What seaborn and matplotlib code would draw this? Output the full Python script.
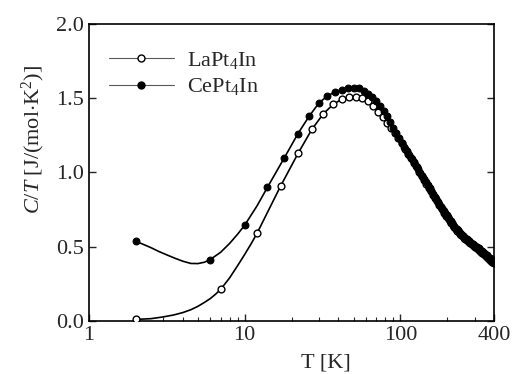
import numpy as np
import pandas as pd
import matplotlib
matplotlib.use("Agg")
import matplotlib.pyplot as plt
from matplotlib.lines import Line2D
from matplotlib.ticker import FixedLocator, FixedFormatter, NullFormatter
import seaborn as sns

# ---------------- data ----------------
ce_T = [2, 6, 10, 14, 18, 22, 26, 30, 34, 38, 42, 46, 50, 54, 58, 62, 66, 70, 74, 78,
        82, 86, 90, 94, 98, 102, 106, 110, 114, 118, 122, 126, 130, 134, 138, 142, 146,
        150, 154, 158, 162, 166, 170, 174, 178, 182, 186, 190, 194, 198, 202, 206, 210,
        214, 218, 222, 226, 230, 234, 238, 242, 246, 250, 254, 258, 262, 266, 270, 274,
        278, 282, 286, 290, 294, 298, 302, 306, 310, 314, 318, 322, 326, 330, 334, 338,
        342, 346, 350, 354, 358, 362, 366, 370, 374, 378, 382, 386, 390, 394, 398]
ce_CT = [0.535, 0.413, 0.645, 0.900, 1.100, 1.262, 1.380, 1.468, 1.515, 1.542, 1.558,
         1.567, 1.569, 1.566, 1.551, 1.530, 1.505, 1.478, 1.448, 1.416, 1.378, 1.338,
         1.302, 1.268, 1.232, 1.200, 1.172, 1.145, 1.118, 1.093, 1.068, 1.044, 1.021,
         0.999, 0.977, 0.956, 0.934, 0.913, 0.892, 0.872, 0.854, 0.836, 0.818, 0.801,
         0.784, 0.769, 0.754, 0.739, 0.725, 0.710, 0.697, 0.684, 0.672, 0.659, 0.647,
         0.635, 0.625, 0.617, 0.609, 0.601, 0.593, 0.585, 0.577, 0.571, 0.565, 0.559,
         0.553, 0.547, 0.541, 0.535, 0.530, 0.525, 0.520, 0.515, 0.511, 0.506, 0.501,
         0.497, 0.492, 0.488, 0.483, 0.478, 0.473, 0.469, 0.464, 0.459, 0.455, 0.450,
         0.446, 0.441, 0.436, 0.431, 0.426, 0.421, 0.416, 0.411, 0.407, 0.402, 0.397,
         0.393]

la_T = [2, 7, 12, 17, 22, 27, 32, 37, 42, 47, 52, 57, 62, 67, 72, 77, 82, 87, 92, 97,
        102, 107, 112, 117, 122, 127, 132, 137, 142, 147, 152, 157, 162, 167, 172, 177,
        182, 187, 192, 197, 202, 207, 212, 217, 222, 227, 232, 237, 242, 247, 252, 257,
        262, 267, 272, 277, 282, 287, 292, 297, 302, 307, 312, 317, 322, 327, 332, 337,
        342, 347, 352, 357, 362, 367, 372, 377, 382, 387, 392, 397]
la_CT = [0.010, 0.212, 0.590, 0.908, 1.128, 1.290, 1.395, 1.458, 1.493, 1.508, 1.510,
         1.498, 1.478, 1.445, 1.410, 1.372, 1.333, 1.298, 1.265, 1.232, 1.195, 1.160,
         1.126, 1.094, 1.063, 1.034, 1.005, 0.978, 0.951, 0.924, 0.898, 0.872, 0.849,
         0.826, 0.805, 0.783, 0.764, 0.745, 0.727, 0.709, 0.692, 0.676, 0.661, 0.645,
         0.630, 0.618, 0.608, 0.598, 0.588, 0.578, 0.569, 0.561, 0.554, 0.546, 0.539,
         0.532, 0.525, 0.519, 0.513, 0.507, 0.501, 0.495, 0.490, 0.484, 0.478, 0.472,
         0.466, 0.460, 0.454, 0.449, 0.443, 0.437, 0.431, 0.424, 0.418, 0.412, 0.406,
         0.400, 0.394, 0.388]

# extra points of the drawn guide curves at low T
ce_line_T = [2.2, 2.5, 2.8, 3.2, 3.6, 4.0, 4.5, 5.0, 5.5, 7.0, 8.0, 9.0, 12.0]
ce_line_CT = [0.518, 0.493, 0.468, 0.442, 0.420, 0.402, 0.387, 0.386, 0.395, 0.462,
              0.522, 0.584, 0.775]
la_line_T = [2.5, 3.0, 3.5, 4.0, 4.5, 5.0, 5.5, 6.0, 6.5, 8.0, 9.0, 10.0, 11.0, 14.0]
la_line_CT = [0.015, 0.027, 0.040, 0.056, 0.075, 0.098, 0.124, 0.150, 0.180, 0.290,
              0.372, 0.448, 0.520, 0.731]

labels = ["LaPt$_4$In", "CePt$_4$In"]
x_ticks = [1, 10, 100, 400]
x_minor = [2, 3, 4, 5, 6, 7, 8, 9, 20, 30, 40, 50, 60, 70, 80, 90, 200, 300]
y_ticks = [0.0, 0.5, 1.0, 1.5, 2.0]

# ---------------- style ----------------
sns.set_style("ticks")
plt.rcParams['font.family'] = ['Liberation Serif', 'DejaVu Serif']
plt.rcParams['mathtext.fontset'] = 'custom'
plt.rcParams['mathtext.rm'] = 'Liberation Serif'
plt.rcParams['mathtext.it'] = 'Liberation Serif:italic'
plt.rcParams['mathtext.bf'] = 'Liberation Serif:bold'

FS = 16

fig = plt.figure(figsize=(5.12, 3.74), dpi=100)
ax = fig.add_axes([0.174, 0.142, 0.791, 0.794])

ce_line = pd.DataFrame({"T": ce_T + ce_line_T, "CT": ce_CT + ce_line_CT}).sort_values("T")
la_line = pd.DataFrame({"T": la_T + la_line_T, "CT": la_CT + la_line_CT}).sort_values("T")

sns.lineplot(data=la_line, x="T", y="CT", sort=True, estimator=None, color="black",
             lw=1.2, ax=ax)
sns.lineplot(data=ce_line, x="T", y="CT", sort=True, estimator=None, color="black",
             lw=1.2, ax=ax)
sns.scatterplot(x=la_T, y=la_CT, marker="o", s=24, color="white", edgecolor="black",
                linewidth=1.0, ax=ax, zorder=3)
sns.scatterplot(x=ce_T, y=ce_CT, marker="o", s=24, color="black", edgecolor="black",
                linewidth=0.8, ax=ax, zorder=4)

ax.set_xscale("log")
ax.set_xlim(1, 400)
ax.set_ylim(0, 2.0)
ax.xaxis.set_major_locator(FixedLocator(x_ticks))
ax.xaxis.set_major_formatter(FixedFormatter([str(t) for t in x_ticks]))
ax.xaxis.set_minor_locator(FixedLocator(x_minor))
ax.xaxis.set_minor_formatter(NullFormatter())
ax.set_yticks(y_ticks)
ax.set_yticklabels([f"{v:.1f}" for v in y_ticks])

ax.tick_params(axis="both", which="major", direction="in", length=5, width=1.0,
               labelsize=FS, pad=4)
ax.tick_params(axis="x", which="minor", direction="in", length=3, width=0.8)
ax.tick_params(axis="y", which="both", right=True)
ax.tick_params(axis="x", which="both", top=False)
for sp in ax.spines.values():
    sp.set_visible(True)
    sp.set_linewidth(1.2)
    sp.set_color("black")

ax.set_xlabel("T [K]", fontsize=FS)
ax.set_ylabel("$C/T$ [J/(mol$\\cdot$K$^2$)]", fontsize=FS)
ax.xaxis.set_label_coords(0.585, -0.11)
ax.yaxis.set_label_coords(-0.105, 0.61)

handles = [
    Line2D([], [], color="0.35", lw=0.8, marker="o", markersize=5,
           markerfacecolor="white", markeredgecolor="black", markeredgewidth=1.0),
    Line2D([], [], color="0.35", lw=0.8, marker="o", markersize=5,
           markerfacecolor="black", markeredgecolor="black"),
]
ax.legend(handles, labels, loc="upper left", bbox_to_anchor=(0.0, 0.98), frameon=False,
          fontsize=FS, handlelength=2.9, handletextpad=0.6, labelspacing=0.25,
          borderaxespad=0.5)

fig.savefig("out.png", dpi=100)
